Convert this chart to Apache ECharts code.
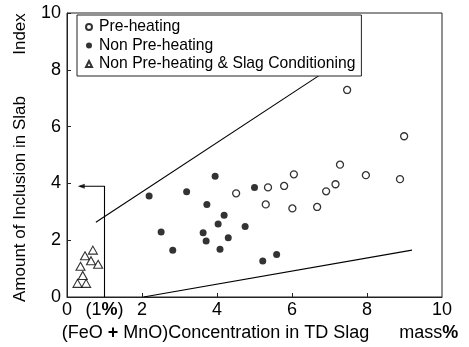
<!DOCTYPE html>
<html>
<head>
<meta charset="utf-8">
<script src="https://cdn.jsdelivr.net/npm/echarts@6/dist/echarts.min.js"></script>
<style>
  html, body { margin: 0; padding: 0; background: #fff; }
  #chart { width: 469px; height: 347px; }
</style>
</head>
<body>
<div id="chart"></div>
<script>
// [FeO+MnO mass%, inclusion index]
const preHeating = [
  [4.51, 3.65], [5.36, 3.86], [5.30, 3.26], [5.79, 3.91], [6.05, 4.32],
  [6.01, 3.12], [6.67, 3.17], [6.91, 3.72], [7.16, 3.97], [7.28, 4.66],
  [7.97, 4.29], [8.88, 4.15], [8.99, 5.66], [7.47, 7.29]
];
const nonPreHeating = [
  [2.19, 3.56], [2.51, 2.29], [2.82, 1.65], [3.19, 3.71], [3.95, 4.25],
  [3.73, 3.26], [3.63, 2.26], [3.71, 1.97], [4.03, 2.57], [4.19, 2.88],
  [4.30, 2.09], [4.08, 1.68], [4.75, 2.48], [5.00, 3.86], [5.22, 1.27],
  [5.59, 1.50]
];
const slagConditioning = [
  [0.28, 0.48], [0.51, 0.48], [0.42, 0.76], [0.36, 1.08], [0.48, 1.45],
  [0.69, 1.65], [0.64, 1.28], [0.83, 1.15]
];
const upperBound = [[0.77, 2.63], [6.84, 7.90]];
const lowerBound = [[2.04, 0], [9.20, 1.65]];
const arrowPath = [[1, 0], [1, 3.9], [0.34, 3.9]];
const arrowHead = [[0.38, 3.9]];

const seriesNames = ["Pre-heating", "Non Pre-heating", "Non Pre-heating & Slag Conditioning"];
const xLabelValues = [0, 1, 2, 4, 6, 8, 10];
const xTickValues = [2, 4, 6, 8];

const FONT = "Liberation Sans";
const chart = echarts.init(document.getElementById("chart"));

const lineStyle = { color: "#000", width: 1.1 };

const option = {
  animation: false,
  textStyle: { fontFamily: FONT, color: "#000" },
  grid: {
    left: 67,
    right: 27,
    top: 13,
    bottom: 50,
    show: true,
    borderColor: "#222",
    borderWidth: 1,
    outerBoundsMode: "none",
  },
  legend: {
    data: seriesNames,
    orient: "vertical",
    left: 77,
    top: 15,
    padding: [4, 6, 4, 8],
    itemGap: 2.5,
    itemWidth: 6,
    itemHeight: 6,
    borderColor: "#222",
    borderWidth: 1,
    backgroundColor: "#fff",
    textStyle: { fontSize: 15.7, lineHeight: 15, color: "#000", padding: [0, 0, 0, 2] },
  },
  xAxis: {
    type: "value",
    min: 0,
    max: 10,
    interval: 2,
    axisLine: { lineStyle: { color: "#222" } },
    axisTick: { inside: true, length: 4, customValues: xTickValues, lineStyle: { color: "#222" } },
    splitLine: { show: false },
    axisLabel: {
      customValues: xLabelValues,
      fontSize: 18,
      color: "#000",
      margin: 4,
      formatter: (v) => (v === 1 ? "{n|(1}{b|%}{n|)}" : String(v)),
      rich: {
        n: { fontSize: 18, fontFamily: FONT },
        b: { fontSize: 18, fontFamily: FONT, fontWeight: "bold" },
      },
    },
    name: "{n|(FeO }{b|+}{n| MnO)Concentration in TD Slag      mass}{b|%}",
    nameLocation: "middle",
    nameGap: 26,
    nameTextStyle: {
      padding: [0, 0, 0, 11],
      rich: {
        n: { fontSize: 18, fontFamily: FONT, color: "#000" },
        b: { fontSize: 18, fontFamily: FONT, fontWeight: "bold", color: "#000" },
      },
    },
  },
  yAxis: {
    type: "value",
    min: 0,
    max: 10,
    interval: 2,
    axisLine: { show: true, lineStyle: { color: "#222" } },
    axisTick: { show: true, inside: true, length: 4, lineStyle: { color: "#222" } },
    splitLine: { show: false },
    axisLabel: { fontSize: 18, color: "#000", margin: 6 },
  },
  graphic: [
    {
      type: "text",
      x: 20,
      y: 199,
      rotation: Math.PI / 2,
      style: {
        text: "Amount of Inclusion in Slab",
        font: "17px " + FONT,
        fill: "#000",
        align: "center",
        verticalAlign: "middle",
      },
    },
    {
      type: "text",
      x: 20,
      y: 34,
      rotation: Math.PI / 2,
      style: {
        text: "Index",
        font: "17px " + FONT,
        fill: "#000",
        align: "center",
        verticalAlign: "middle",
      },
    },
  ],
  series: [
    {
      name: seriesNames[0],
      type: "scatter",
      data: preHeating,
      symbol: "circle",
      symbolSize: 7,
      itemStyle: { color: "#fff", borderColor: "#000", borderWidth: 1.3 },
      z: 5,
    },
    {
      name: seriesNames[1],
      type: "scatter",
      data: nonPreHeating,
      symbol: "circle",
      symbolSize: 7,
      itemStyle: { color: "#000" },
      z: 5,
    },
    {
      name: seriesNames[2],
      type: "scatter",
      data: slagConditioning,
      symbol: "triangle",
      symbolSize: [9, 8],
      itemStyle: { color: "#fff", borderColor: "#000", borderWidth: 1.1 },
      z: 5,
    },
    {
      type: "line",
      data: upperBound,
      symbol: "none",
      lineStyle: lineStyle,
      silent: true,
    },
    {
      type: "line",
      data: lowerBound,
      symbol: "none",
      lineStyle: lineStyle,
      silent: true,
    },
    {
      type: "line",
      data: arrowPath,
      symbol: "none",
      lineStyle: lineStyle,
      silent: true,
    },
    {
      type: "scatter",
      data: arrowHead,
      symbol: "triangle",
      symbolSize: [5, 7],
      symbolRotate: 90,
      itemStyle: { color: "#000" },
      silent: true,
    },
  ],
};

chart.setOption(option);
</script>
</body>
</html>
